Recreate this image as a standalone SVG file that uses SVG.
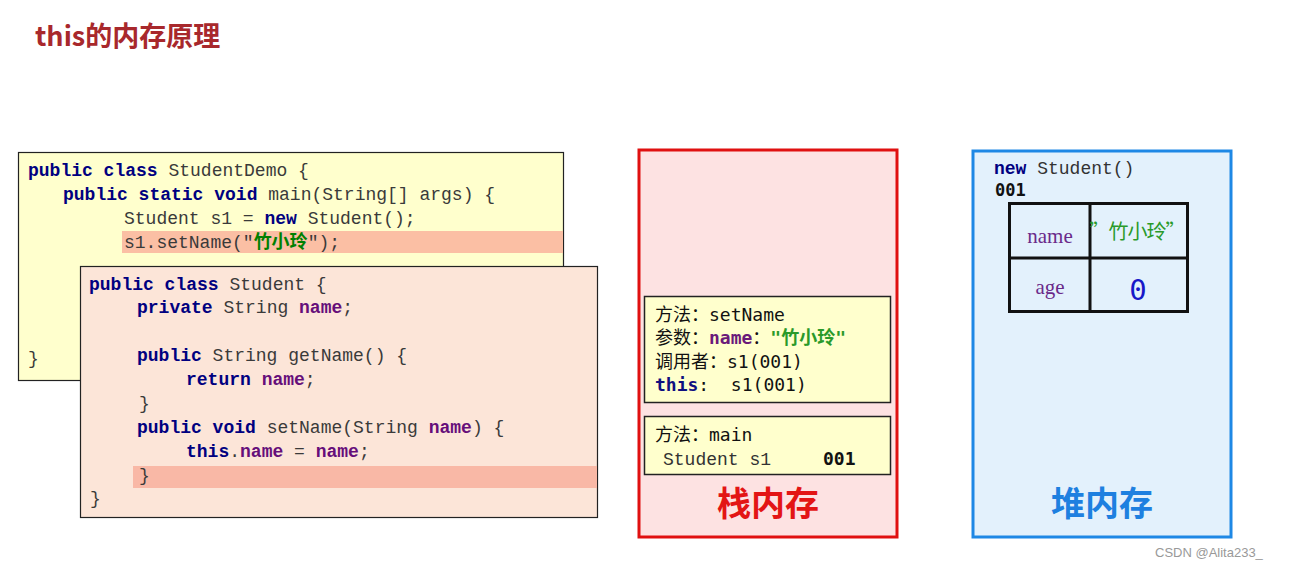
<svg xmlns="http://www.w3.org/2000/svg" width="1289" height="569" viewBox="0 0 1289 569">
<style>
.code{font-family:"Liberation Mono","Courier New",monospace;font-size:18px;fill:#3a3a3a;white-space:pre}
.kw{fill:#000080;font-weight:bold}
.nm{fill:#660e7a;font-weight:bold}
.str{fill:#008000;font-weight:bold;font-family:"Liberation Mono","Noto Sans CJK SC",monospace}
.fr{font-family:"DejaVu Sans Mono","Noto Sans CJK SC",monospace;font-size:18px;fill:#111;white-space:pre}
.big{font-family:"Noto Sans CJK SC",sans-serif;font-weight:bold;font-size:34px;text-anchor:middle}
.cell{font-family:"Liberation Serif","Times New Roman",serif;font-size:21px;fill:#6a2a8a;text-anchor:middle}
</style>
<rect width="1289" height="569" fill="#ffffff"/>
<text x="35" y="46" font-family="Noto Sans CJK SC,sans-serif" font-weight="bold" font-size="27" fill="#a8282c">this的内存原理</text>

<g id="code-demo">
<rect x="18.5" y="152.5" width="545" height="228" fill="#ffffcd" stroke="#222" stroke-width="1.2"/>
<rect x="122" y="231" width="441" height="22" fill="#fbbfa4"/>
<text class="code" x="28" y="176"><tspan class="kw">public class</tspan> StudentDemo {</text>
<text class="code" x="63" y="200"><tspan class="kw">public static void</tspan> main(String[] args) {</text>
<text class="code" x="124" y="224">Student s1 = <tspan class="kw">new</tspan> Student();</text>
<text class="code" x="124" y="248">s1.setName("<tspan class="str">竹小玲</tspan>");</text>
<text class="code" x="28" y="364">}</text>
</g>

<g id="code-student">
<rect x="80.5" y="266.5" width="517" height="251" fill="#fce5d8" stroke="#222" stroke-width="1.2"/>
<rect x="133" y="466" width="464" height="22" fill="#f9b8a6"/>
<text class="code" x="89" y="290"><tspan class="kw">public class</tspan> Student {</text>
<text class="code" x="137" y="313"><tspan class="kw">private</tspan> String <tspan class="nm">name</tspan>;</text>
<text class="code" x="137" y="361"><tspan class="kw">public</tspan> String getName() {</text>
<text class="code" x="186" y="385"><tspan class="kw">return</tspan> <tspan class="nm">name</tspan>;</text>
<text class="code" x="139" y="409">}</text>
<text class="code" x="137" y="433"><tspan class="kw">public void</tspan> setName(String <tspan class="nm">name</tspan>) {</text>
<text class="code" x="186" y="457"><tspan class="kw">this</tspan>.<tspan class="nm">name</tspan> = <tspan class="nm">name</tspan>;</text>
<text class="code" x="139" y="481">}</text>
<text class="code" x="90" y="504">}</text>
</g>

<g id="stack">
<rect x="639" y="150" width="258" height="387" fill="#fde2e2" stroke="#e01010" stroke-width="3"/>
<text class="big" x="768" y="516" fill="#e31515">栈内存</text>
</g>

<g id="frame-setName">
<rect x="644.5" y="296.5" width="246" height="106" fill="#ffffcd" stroke="#222" stroke-width="1.5"/>
<text class="fr" x="655" y="321">方法：setName</text>
<text class="fr" x="655" y="344">参数：<tspan fill="#6a1a7a" font-weight="bold">name</tspan>：<tspan fill="#2a9a2a" font-weight="bold">"竹小玲"</tspan></text>
<text class="fr" x="655" y="368">调用者：s1(001)</text>
<text class="fr" x="655" y="391"><tspan fill="#101080" font-weight="bold">this</tspan>:  s1(001)</text>
</g>

<g id="frame-main">
<rect x="644.5" y="416.5" width="246" height="58" fill="#ffffcd" stroke="#222" stroke-width="1.5"/>
<text class="fr" x="655" y="441">方法：main</text>
<text x="663" y="465" font-family="Liberation Mono,monospace" font-size="18" fill="#333">Student s1</text>
<text x="823" y="465" font-family="DejaVu Sans Mono,monospace" font-weight="bold" font-size="18" fill="#111">001</text>
</g>

<g id="heap">
<rect x="973" y="151" width="258" height="386" fill="#e3f1fc" stroke="#1e88e5" stroke-width="3"/>
<text class="big" x="1102" y="516" fill="#1e80e0">堆内存</text>
</g>

<g id="object-001">
<text x="994" y="174" font-family="Liberation Mono,monospace" font-size="18" fill="#333"><tspan fill="#000080" font-weight="bold">new</tspan> Student()</text>
<text x="995" y="196" font-family="DejaVu Sans Mono,monospace" font-weight="bold" font-size="17" fill="#111">001</text>
<rect x="1009.5" y="203.5" width="178" height="108" fill="none" stroke="#111" stroke-width="3"/>
<line x1="1090" y1="203" x2="1090" y2="312" stroke="#111" stroke-width="3"/>
<line x1="1009" y1="258" x2="1188" y2="258" stroke="#111" stroke-width="3"/>
<text class="cell" x="1050" y="243">name</text>
<text x="1137" y="239" font-family="Noto Sans CJK SC,sans-serif" font-size="20" fill="#2a9a2a" text-anchor="middle" letter-spacing="-1">”竹小玲”</text>
<text class="cell" x="1050" y="294">age</text>
<text x="1138" y="300" font-family="DejaVu Sans Mono,monospace" font-size="29" fill="#1818c8" text-anchor="middle">0</text>
</g>

<g id="connectors"></g>

<text x="1155" y="557" font-family="Liberation Sans,Arial,sans-serif" font-size="13" fill="#999">CSDN @Alita233_</text>
</svg>
